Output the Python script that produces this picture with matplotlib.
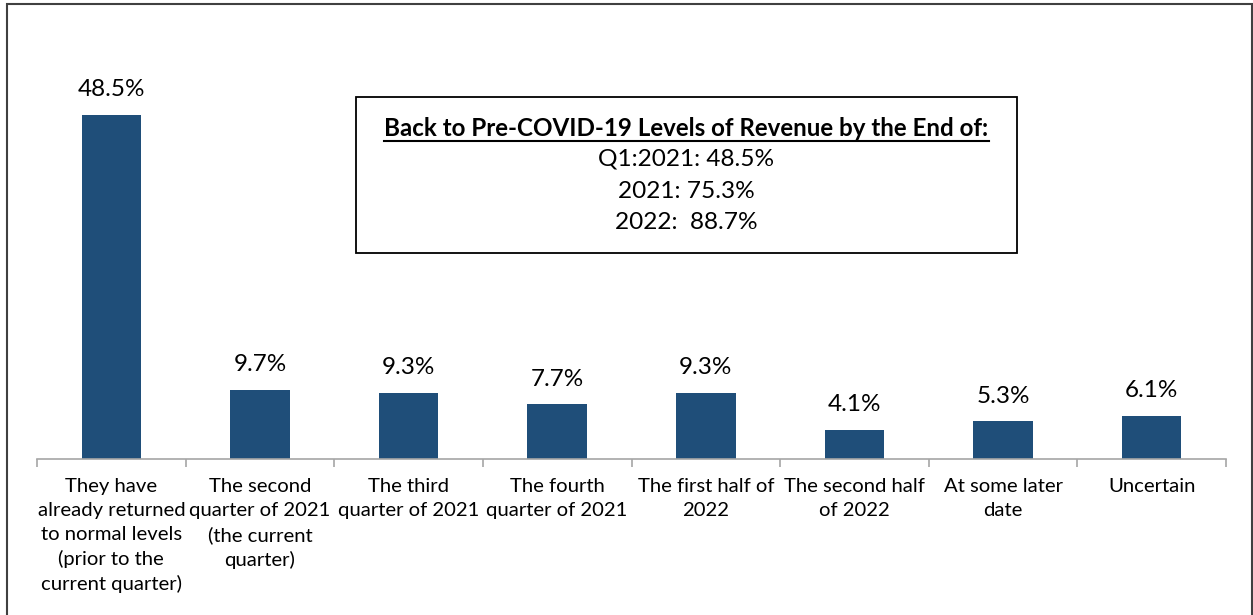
import matplotlib.pyplot as plt
from matplotlib.patches import Rectangle

categories = [
    "They have\nalready returned\nto normal levels\n(prior to the\ncurrent quarter)",
    "The second\nquarter of 2021\n(the current\nquarter)",
    "The third\nquarter of 2021",
    "The fourth\nquarter of 2021",
    "The first half of\n2022",
    "The second half\nof 2022",
    "At some later\ndate",
    "Uncertain",
]
values = [48.5, 9.7, 9.3, 7.7, 9.3, 4.1, 5.3, 6.1]
box_title = "Back to Pre-COVID-19 Levels of Revenue by the End of:"
box_lines = ["Q1:2021: 48.5%", "2021: 75.3%", "2022:  88.7%"]

plt.rcParams['font.family'] = ['Lato', 'DejaVu Sans']

W, H = 1253, 615
fig = plt.figure(figsize=(W / 100, H / 100), dpi=100)

# outer frame
fig.add_artist(Rectangle((7 / W, -0.01), (W - 8) / W, 1 - 4 / H + 0.01,
                         transform=fig.transFigure, fill=False,
                         edgecolor='#404040', linewidth=1.5))

ax_top = 459 - 60 * 7.09
ax = fig.add_axes([37 / W, 1 - 459 / H, (1226 - 37) / W, (459 - ax_top) / H])

x = range(len(values))
ax.bar(x, values, width=0.4, color='#1F4E79')
for i, v in enumerate(values):
    ax.text(i, v + 2.1, f"{v}%", ha='center', va='bottom', fontsize=17.5, color='black')

ax.set_xlim(-0.5, len(values) - 0.5)
ax.set_ylim(0, 60)
for s in ['top', 'right', 'left']:
    ax.spines[s].set_visible(False)
ax.spines['bottom'].set_color('#A6A6A6')
ax.spines['bottom'].set_linewidth(1.2)
ax.set_yticks([])
ax.set_xticks([i - 0.5 for i in range(len(values) + 1)])
ax.set_xticklabels([])
ax.tick_params(axis='x', length=6, color='#A6A6A6', width=1.2)
for i, c in enumerate(categories):
    ax.text(i, -2.7, c, ha='center', va='top', fontsize=14.6, linespacing=1.48)

# summary box
fig.add_artist(Rectangle((356 / W, 1 - 253 / H), (1017 - 356) / W, (253 - 97) / H,
                         transform=fig.transFigure, fill=False,
                         edgecolor='black', linewidth=1.3))
cx = (356 + 1017) / 2 / W
t = fig.text(cx, 1 - 128 / H, box_title, ha='center', va='center',
             fontsize=17.4, fontweight='bold')
fig.canvas.draw()
bb = t.get_window_extent()
uy = (bb.y0 - 1) / H
fig.add_artist(plt.Line2D([bb.x0 / W, bb.x1 / W], [uy, uy],
                          transform=fig.transFigure, color='black', linewidth=1.5))
for j, line in enumerate(box_lines):
    fig.text(cx, 1 - (159.5 + 31.5 * j) / H, line, ha='center', va='center', fontsize=17.6)

fig.savefig('out.png', dpi=100)
